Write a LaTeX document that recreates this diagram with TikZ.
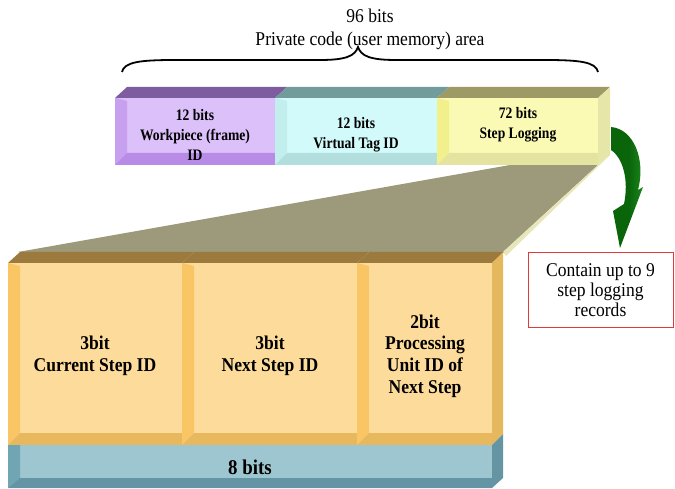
\documentclass[tikz,border=0pt]{standalone}
\usepackage{fontspec}
\setmainfont{Liberation Serif}[FakeStretch=0.9]
\newfontfamily\narrowserif{Liberation Serif}[FakeStretch=0.85]
\definecolor{purTop}{HTML}{7D5CA0}
\definecolor{purIn}{HTML}{DCC0FA}
\definecolor{purL}{HTML}{C8A0F0}
\definecolor{purB}{HTML}{B88CE6}
\definecolor{cyTop}{HTML}{729C9C}
\definecolor{cyIn}{HTML}{D2FAFA}
\definecolor{cyL}{HTML}{C2EEEE}
\definecolor{cyB}{HTML}{B2DEDE}
\definecolor{yeTop}{HTML}{9E9A66}
\definecolor{yeIn}{HTML}{FAFAB4}
\definecolor{yeL}{HTML}{F2F08C}
\definecolor{yeB}{HTML}{E4E4A0}
\definecolor{yeR}{HTML}{E6E6A8}
\definecolor{orTop}{HTML}{9C7A3E}
\definecolor{orIn}{HTML}{FDDC9B}
\definecolor{orL}{HTML}{FAC564}
\definecolor{orB}{HTML}{E8B85E}
\definecolor{orR}{HTML}{E6B85E}
\definecolor{blIn}{HTML}{9EC6D0}
\definecolor{blL}{HTML}{70A6B4}
\definecolor{blB}{HTML}{6495A4}
\definecolor{blR}{HTML}{6595A3}
\definecolor{trap}{HTML}{9C9A7A}
\definecolor{sliver}{HTML}{E6E6B8}
\definecolor{arrDark}{HTML}{0A640A}
\definecolor{arrLight}{HTML}{1E8C1E}
\definecolor{boxRed}{HTML}{E03A3A}
% x0 x1 yt yb inner left bottom top-face
\newcommand{\bevcell}[8]{%
  \fill[#5] (#1,#3) rectangle (#2,#4);
  \fill[#6] (#1,#3) -- (#1+12,#3+3) -- (#1+12,#4-12) -- (#1,#4) -- cycle;
  \fill[#7] (#1,#4) -- (#1+12,#4-12) -- (#2,#4-12) -- (#2,#4) -- cycle;
  \fill[#8] (#1,#3) -- (#1+12,#3-11) -- (#2+12,#3-11) -- (#2,#3) -- cycle;
}
\tikzset{
  barlabel/.style={inner sep=0pt, align=center, font=\narrowserif\fontsize{16}{20}\selectfont\bfseries},
  celllabel/.style={inner sep=0pt, align=center, font=\fontsize{19.5}{21.7}\selectfont\bfseries},
  plainlabel/.style={inner sep=0pt, align=center, font=\fontsize{19.5}{23}\selectfont},
  notebox/.style={draw=boxRed, line width=1pt, minimum width=145pt, minimum height=74pt,
    inner sep=0pt, align=center, font=\fontsize{19.5}{20}\selectfont}
}
\begin{document}
\begin{tikzpicture}[x=1pt,y=-1pt]
\useasboundingbox (0,0) rectangle (675,489);

% title and brace
\node[plainlabel] (title) at (370,29) {96 bits\\Private code (user memory) area};
\draw[line width=1.8pt] (122,72) .. controls (124,62) and (140,60) .. (175,60)
  -- (320,60) .. controls (346,60) and (355,56) .. (358,47)
  .. controls (361,56) and (370,60) .. (396,60)
  -- (545,60) .. controls (580,60) and (596,62) .. (598,72);

% projection trapezoid
\fill[trap] (510,165) -- (598,165) -- (503,252) -- (18,252) -- cycle;
\fill[sliver] (598,165) -- (610,155) -- (506,256) -- (503,252) -- cycle;

% top bar
\bevcell{115}{275}{98}{165}{purIn}{purL}{purB}{purTop}
\bevcell{275}{437}{98}{165}{cyIn}{cyL}{cyB}{cyTop}
\bevcell{437}{598}{98}{165}{yeIn}{yeL}{yeB}{yeTop}
\fill[yeR] (598,98) -- (610,87) -- (610,155) -- (598,165) -- cycle;

\node[barlabel] (wp) at (195,135) {12 bits\\Workpiece (frame)\\ID};
\node[barlabel] (vt) at (356,135) {12 bits\\Virtual Tag ID};
\node[barlabel] (sl) at (518,125) {72 bits\\Step Logging};

% bottom block (orange)
\bevcell{8}{182}{263}{445}{orIn}{orL}{orB}{orTop}
\bevcell{182}{357}{263}{445}{orIn}{orL}{orB}{orTop}
\bevcell{357}{492}{263}{445}{orIn}{orL}{orB}{orTop}
\fill[orR] (492,263) -- (503,252) -- (503,434) -- (492,445) -- cycle;

% blue bar
\fill[blIn] (8,445) rectangle (492,488);
\fill[blL] (8,445) -- (20,445) -- (20,478) -- (8,488) -- cycle;
\fill[blB] (8,488) -- (20,478) -- (492,478) -- (492,488) -- cycle;
\fill[blR] (492,445) -- (503,434) -- (503,478) -- (492,488) -- cycle;

\node[celllabel] (cs) at (95,356) {3bit\\Current Step ID};
\node[celllabel] (ns) at (270,356) {3bit\\Next Step ID};
\node[celllabel] (pu) at (425,356) {2bit\\Processing\\Unit ID of\\Next Step};
\node[celllabel, font=\fontsize{21}{22}\selectfont\bfseries] (eb) at (250,467) {8 bits};

% green curved arrow
\shade[left color=arrDark, right color=arrLight, middle color=arrDark]
  (611,127) .. controls (634,129) and (646,160) .. (638,190)
  -- (643,187) -- (620,248) -- (613,211) -- (624,204)
  .. controls (629,180) and (623,158) .. (611,150) -- cycle;

% note box
\node[notebox] (note) at (600.5,290) {Contain up to 9\\step logging\\records};
\end{tikzpicture}
\end{document}
